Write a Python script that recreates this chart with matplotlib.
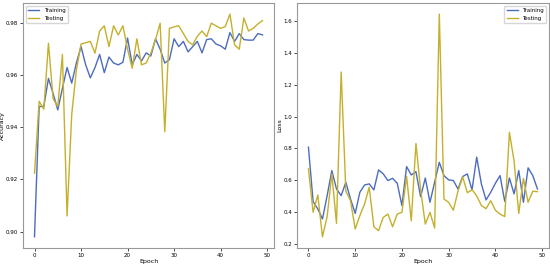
import numpy as np
import matplotlib
matplotlib.use("Agg")
import matplotlib.pyplot as plt

epochs = np.arange(50)

train_acc = [0.898, 0.948, 0.948, 0.9588, 0.953, 0.9467, 0.955, 0.963, 0.957, 0.9647,
             0.971, 0.964, 0.959, 0.963, 0.968, 0.961, 0.967, 0.9647, 0.964, 0.965,
             0.9743, 0.964, 0.968, 0.9655, 0.9686, 0.9674, 0.974, 0.970, 0.9647, 0.966,
             0.974, 0.971, 0.973, 0.969, 0.971, 0.973, 0.9686, 0.9737, 0.974, 0.972,
             0.9713, 0.970, 0.9764, 0.973, 0.976, 0.9737, 0.9735, 0.9735, 0.976, 0.9755]
test_acc = [0.9224, 0.950, 0.947, 0.9723, 0.951, 0.948, 0.968, 0.906, 0.945, 0.962,
            0.972, 0.9725, 0.973, 0.9685, 0.977, 0.979, 0.971, 0.979, 0.9755, 0.979,
            0.970, 0.9627, 0.974, 0.964, 0.9647, 0.9685, 0.9736, 0.980, 0.9383, 0.978,
            0.9786, 0.979, 0.976, 0.973, 0.9717, 0.975, 0.977, 0.9748, 0.980, 0.979,
            0.978, 0.9787, 0.9835, 0.9717, 0.970, 0.982, 0.977, 0.978, 0.9797, 0.981]

train_loss = [0.807, 0.464, 0.418, 0.355, 0.502, 0.66, 0.544, 0.502, 0.586, 0.481,
              0.39, 0.523, 0.569, 0.576, 0.538, 0.664, 0.639, 0.597, 0.611, 0.58,
              0.439, 0.685, 0.632, 0.653, 0.495, 0.613, 0.46, 0.586, 0.712, 0.628,
              0.601, 0.597, 0.544, 0.622, 0.639, 0.538, 0.744, 0.576, 0.475, 0.523,
              0.58, 0.628, 0.466, 0.613, 0.513, 0.66, 0.46, 0.677, 0.628, 0.544]
test_loss = [0.67, 0.397, 0.506, 0.243, 0.37, 0.639, 0.327, 1.28, 0.53, 0.47,
             0.292, 0.376, 0.449, 0.555, 0.306, 0.281, 0.365, 0.386, 0.306, 0.386,
             0.397, 0.622, 0.344, 0.83, 0.54, 0.323, 0.397, 0.298, 1.645, 0.48,
             0.46, 0.41, 0.53, 0.62, 0.52, 0.54, 0.50, 0.44, 0.42, 0.47,
             0.41, 0.386, 0.37, 0.90, 0.72, 0.39, 0.61, 0.46, 0.53, 0.527]

c_train = "#4c6cc0"
c_test = "#c4b02c"

fig = plt.figure(figsize=(5.5, 2.66), dpi=100)
ax1 = fig.add_axes([0.042, 0.068, 0.456, 0.921])
ax2 = fig.add_axes([0.540, 0.068, 0.458, 0.921])

ax1.plot(epochs, train_acc, color=c_train, lw=1.0, label="Training")
ax1.plot(epochs, test_acc, color=c_test, lw=1.0, label="Testing")
ax1.set_xlabel("Epoch", fontsize=4.5, labelpad=1)
ax1.set_ylabel("Accuracy", fontsize=4.5, labelpad=1)
ax1.legend(loc="upper left", fontsize=4, frameon=True)

ax2.plot(epochs, train_loss, color=c_train, lw=1.0, label="Training")
ax2.plot(epochs, test_loss, color=c_test, lw=1.0, label="Testing")
ax2.set_xlabel("Epoch", fontsize=4.5, labelpad=1)
ax2.set_ylabel("Loss", fontsize=4.5, labelpad=1)
ax2.legend(loc="upper right", fontsize=4, frameon=True)

for ax in (ax1, ax2):
    ax.tick_params(labelsize=4, length=2, width=0.5, pad=1.5)
    for s in ax.spines.values():
        s.set_color("#999999")
        s.set_linewidth(0.8)

fig.savefig("out.png", dpi=100)
